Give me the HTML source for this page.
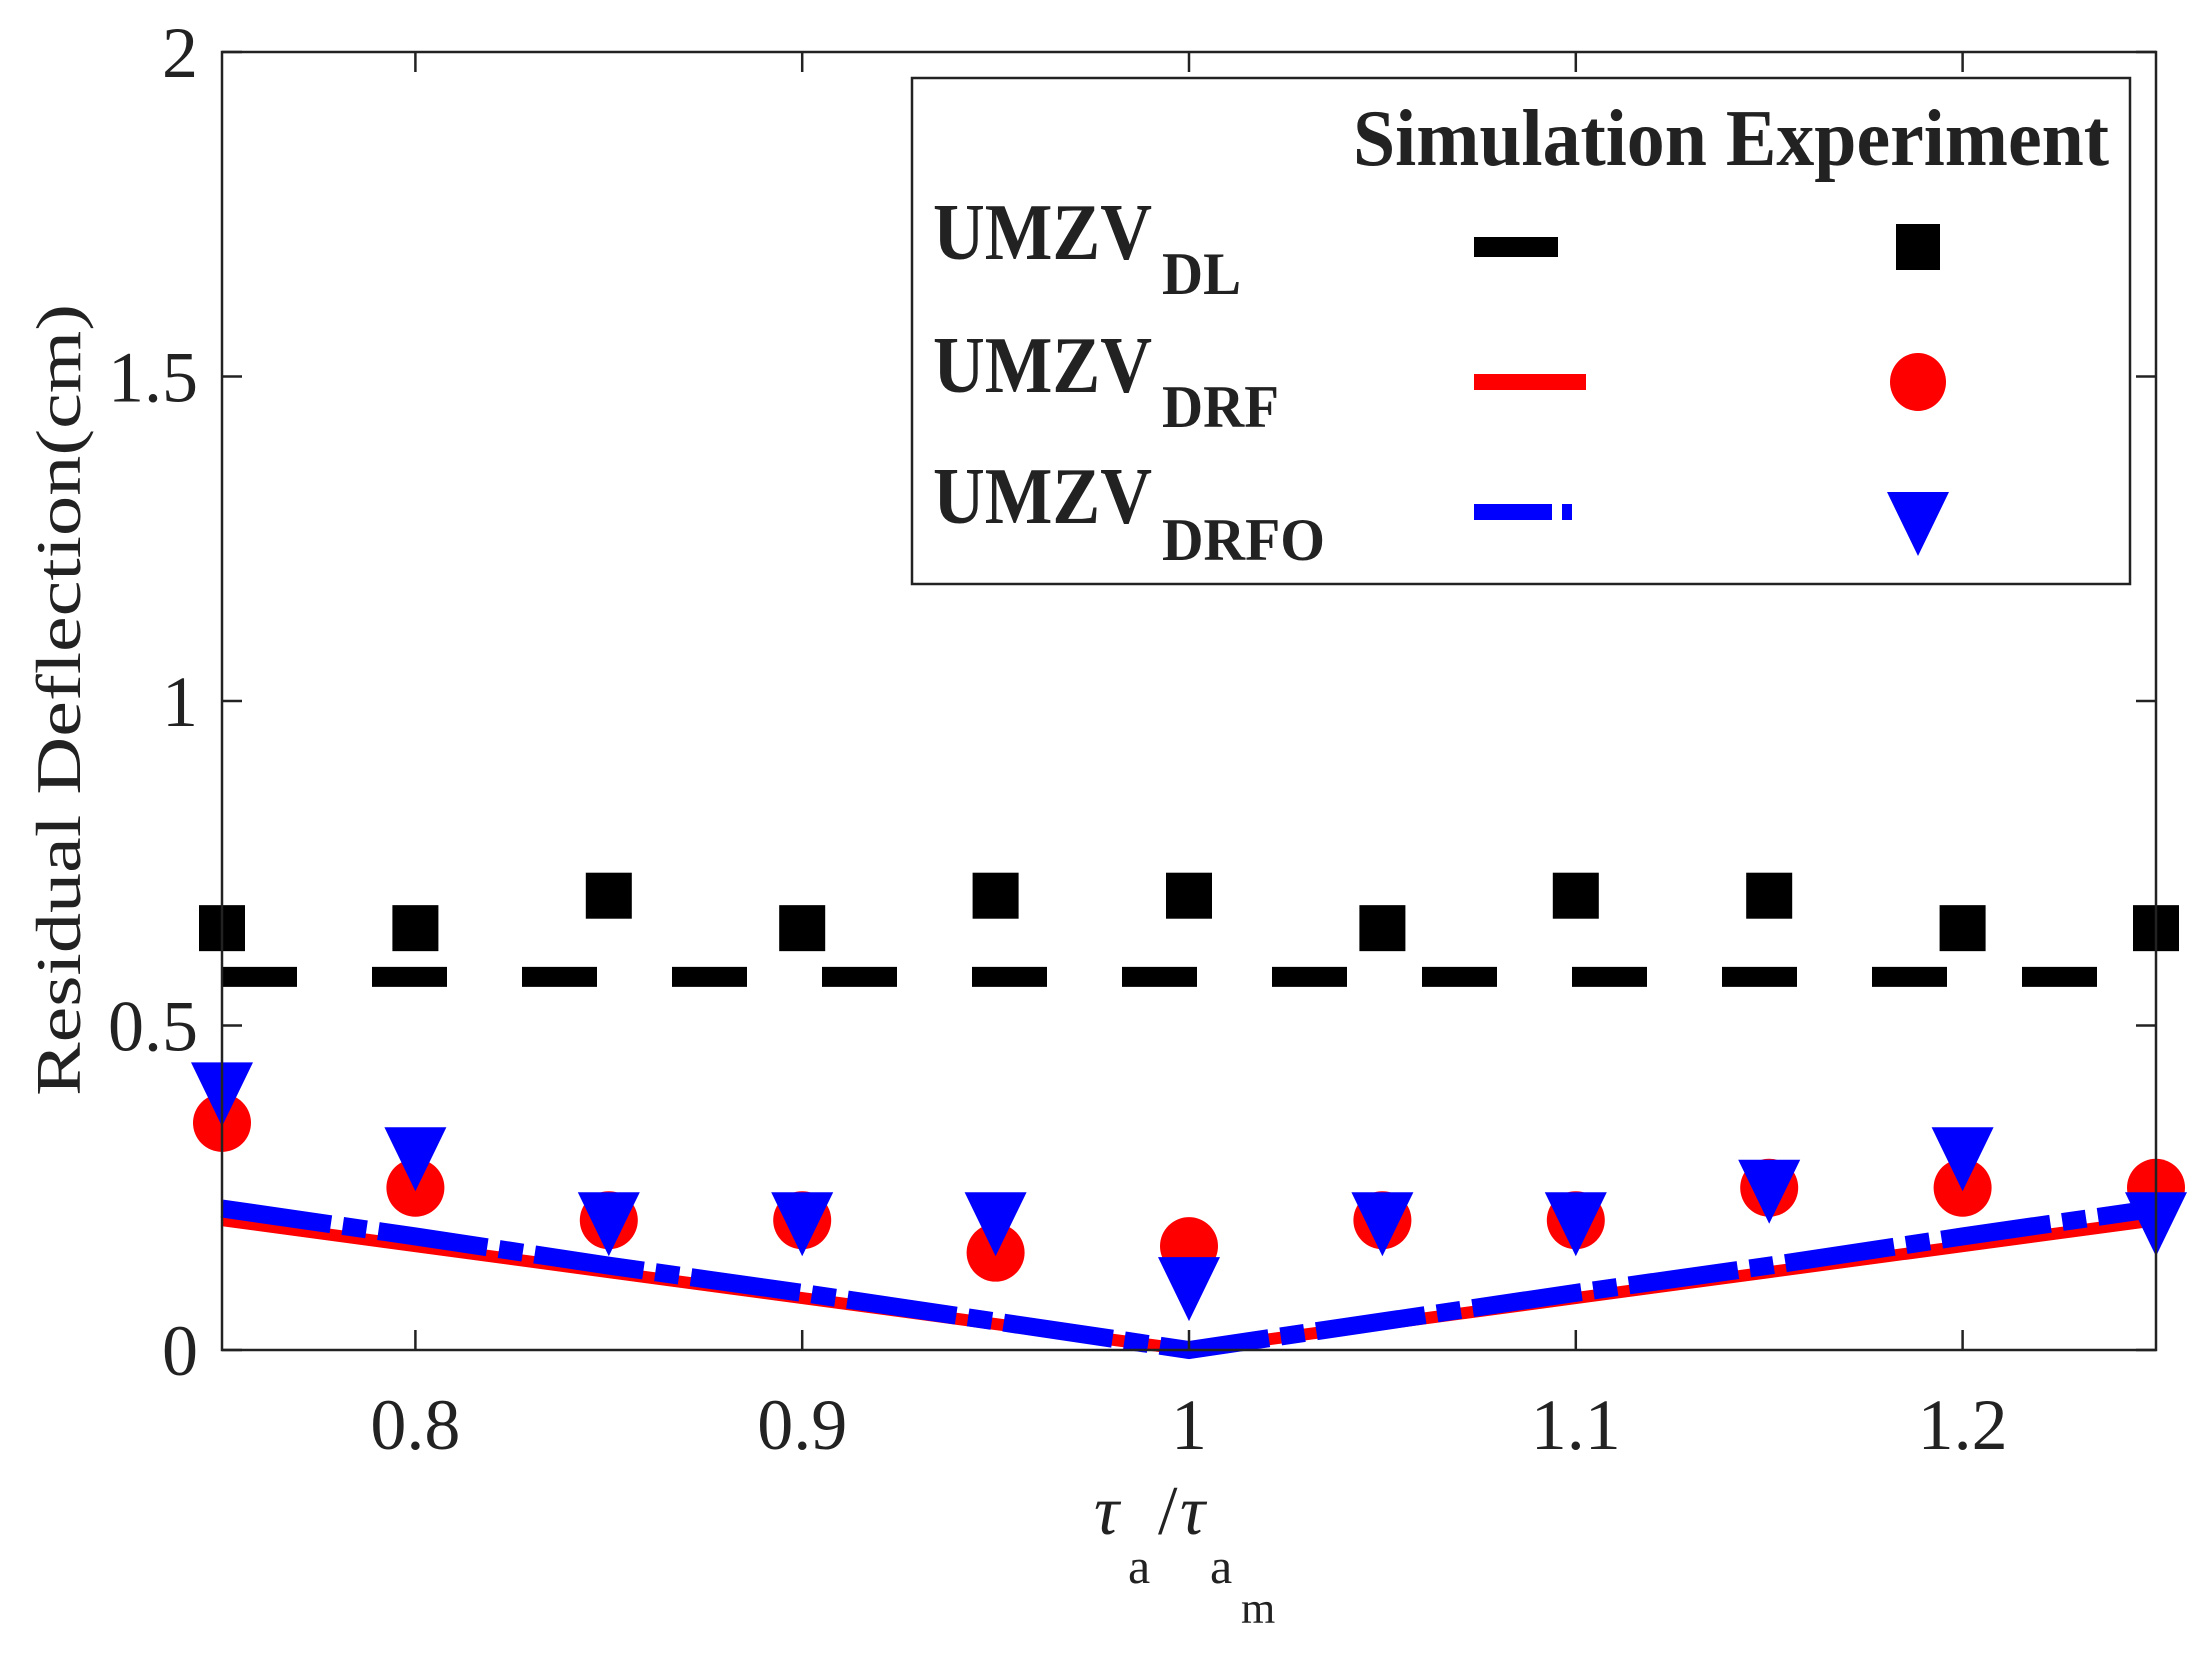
<!DOCTYPE html>
<html><head><meta charset="utf-8"><style>
html,body{margin:0;padding:0;background:#fff}
svg{display:block}
text{font-family:"Liberation Serif",serif;fill:#222}
</style></head><body>
<svg id="chart" width="2211" height="1654" viewBox="0 0 2211 1654" xmlns="http://www.w3.org/2000/svg">
<g id="plot"></g>
<g id="axes"></g>
<g id="legend">
<rect x="912" y="78" width="1218" height="506" fill="#fff" stroke="#222" stroke-width="2.5"/>
<text x="1353" y="165" font-size="80" font-weight="bold" textLength="756" lengthAdjust="spacingAndGlyphs">Simulation Experiment</text>
<g>
<text x="933" y="259" font-size="80" font-weight="bold" textLength="219" lengthAdjust="spacingAndGlyphs">UMZV</text>
<text x="1162" y="294" font-size="60" font-weight="bold" textLength="79" lengthAdjust="spacingAndGlyphs">DL</text>
<line x1="1474" y1="247" x2="1558" y2="247" stroke="#000" stroke-width="20"/>
<rect x="1896" y="224" width="44" height="46" fill="#000"/>
</g>
<g>
<text x="933" y="392" font-size="80" font-weight="bold" textLength="219" lengthAdjust="spacingAndGlyphs">UMZV</text>
<text x="1162" y="427" font-size="60" font-weight="bold" textLength="117" lengthAdjust="spacingAndGlyphs">DRF</text>
<line x1="1474" y1="382" x2="1586" y2="382" stroke="#f00" stroke-width="16"/>
<ellipse cx="1918" cy="382" rx="28" ry="29" fill="#f00"/>
</g>
<g>
<text x="933" y="523" font-size="80" font-weight="bold" textLength="219" lengthAdjust="spacingAndGlyphs">UMZV</text>
<text x="1162" y="560" font-size="60" font-weight="bold" textLength="163" lengthAdjust="spacingAndGlyphs">DRFO</text>
<line x1="1474" y1="512" x2="1586" y2="512" stroke="#00f" stroke-width="16" stroke-dasharray="78 10 10 40"/>
<polygon points="1887,492 1949,492 1918,556" fill="#00f"/>
</g>
</g>
</svg>
<script>
const xCats=[0.75,0.8,0.85,0.9,0.95,1.0,1.05,1.1,1.15,1.2,1.25];
const simDL=[0.575,0.575,0.575,0.575,0.575,0.575,0.575,0.575,0.575,0.575,0.575];
const simDRF=[0.2,0.16,0.12,0.08,0.04,0,0.04,0.08,0.12,0.16,0.2];
const simDRFO=[0.218,0.175,0.13,0.088,0.044,0,0.044,0.088,0.13,0.175,0.218];
const expDL=[0.65,0.65,0.7,0.65,0.7,0.7,0.65,0.7,0.7,0.65,0.65];
const expDRF=[0.35,0.25,0.2,0.2,0.15,0.16,0.2,0.2,0.25,0.25,0.25];
const expDRFO=[0.4,0.3,0.2,0.2,0.2,0.1,0.2,0.2,0.25,0.3,0.2];
const xTicks=[0.8,0.9,1.0,1.1,1.2];
const xTickLabels=["0.8","0.9","1","1.1","1.2"];
const yTicks=[0,0.5,1,1.5,2];
const yTickLabels=["0","0.5","1","1.5","2"];

const L=222,R=2156,T=52,B=1350;
const X0=0.75,X1=1.25,Y0=0,Y1=2;
const xs=v=>L+(v-X0)/(X1-X0)*(R-L);
const ys=v=>B-(v-Y0)/(Y1-Y0)*(B-T);
const NS="http://www.w3.org/2000/svg";
const plot=document.getElementById('plot'),axes=document.getElementById('axes');
function mk(tag,attrs,parent){const e=document.createElementNS(NS,tag);for(const k in attrs)e.setAttribute(k,attrs[k]);parent.appendChild(e);return e;}

let box=mk('rect',{x:L,y:T,width:R-L,height:B-T,fill:'none',stroke:'#222','stroke-width':2.5},axes);


xTicks.forEach((v,i)=>{
  const x=xs(v);
  let t1=mk('line',{x1:x,y1:B,x2:x,y2:B-20,stroke:'#222','stroke-width':2.5},axes);
  
  
  let t2=mk('line',{x1:x,y1:T,x2:x,y2:T+20,stroke:'#222','stroke-width':2.5},axes);
  
  
  let lb=mk('text',{x:x,y:1449,'font-size':72,'text-anchor':'middle'},axes);
  lb.textContent=xTickLabels[i];
  
  
});
yTicks.forEach((v,i)=>{
  const y=ys(v);
  let t1=mk('line',{x1:L,y1:y,x2:L+20,y2:y,stroke:'#222','stroke-width':2.5},axes);
  
  
  let t2=mk('line',{x1:R,y1:y,x2:R-20,y2:y,stroke:'#222','stroke-width':2.5},axes);
  
  
  let lb=mk('text',{x:198,y:y+25,'font-size':72,'text-anchor':'end'},axes);
  lb.textContent=yTickLabels[i];
  
  
});
let yt=mk('text',{x:0,y:0,'font-size':64,'text-anchor':'middle',transform:'translate(80,700) rotate(-90)',textLength:792,lengthAdjust:'spacingAndGlyphs'},axes);
yt.textContent='Residual Deflection(cm)';


const xt=mk('g',{},axes);


[['τ',1094,1534,70,'italic'],['a',1128,1583,50,'normal'],['/',1158,1534,70,'normal'],['τ',1180,1534,70,'italic'],['a',1210,1583,50,'normal'],['m',1241,1623,44,'normal']].forEach(p=>{
  const t=mk('text',{x:p[1],y:p[2],'font-size':p[3],'font-style':p[4]},xt);t.textContent=p[0];
});

function pts(arr){return xCats.map((c,i)=>xs(c)+','+ys(arr[i])).join(' ');}
let l1=mk('polyline',{points:pts(simDL),fill:'none',stroke:'#000','stroke-width':20,'stroke-dasharray':'75 75'},plot);


let l2=mk('polyline',{points:pts(simDRF),fill:'none',stroke:'#f00','stroke-width':12},plot);


let l3=mk('polyline',{points:pts(simDRFO),fill:'none',stroke:'#00f','stroke-width':18,'stroke-dasharray':'110 12 24 12'},plot);


xCats.forEach((c,i)=>{
  const x=xs(c);
  let s=mk('rect',{x:x-23,y:ys(expDL[i])-23,width:46,height:46,fill:'#000'},plot);
  
  
  let ci=mk('circle',{cx:x,cy:ys(expDRF[i]),r:29,fill:'#f00'},plot);
  
  
  const y=ys(expDRFO[i]);
  let tr=mk('polygon',{points:`${x-31},${y-28} ${x+31},${y-28} ${x},${y+36}`,fill:'#00f'},plot);
  
  
});
</script>
</body></html>
